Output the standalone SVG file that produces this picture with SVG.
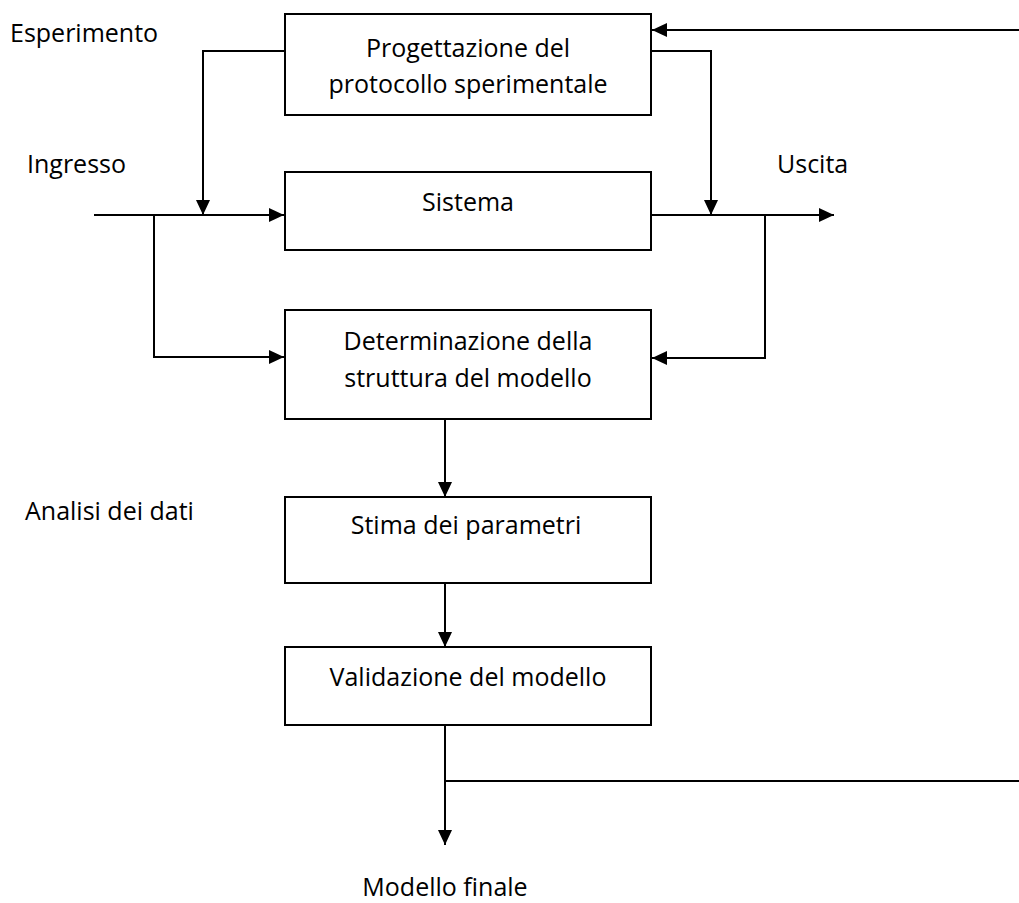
<svg xmlns="http://www.w3.org/2000/svg" width="1019" height="903" viewBox="0 0 1019 903">
<defs>
<marker id="ah" markerUnits="userSpaceOnUse" markerWidth="16" markerHeight="16" viewBox="0 0 16 16" refX="15" refY="8" orient="auto">
<path d="M0,1 L15,8 L0,15 z" fill="#000"/>
</marker>
<style>
.box{fill:#fff;stroke:#000;stroke-width:2}
.t{font-family:"Open Sans","Noto Sans","Liberation Sans",sans-serif;font-size:25px;fill:#000}
.c{text-anchor:middle}
.ln{fill:none;stroke:#000;stroke-width:2}
.ar{fill:none;stroke:#000;stroke-width:2;marker-end:url(#ah)}
</style>
</defs>
<rect width="1019" height="903" fill="#fff"/>
<g id="connectors">
<path class="ar" d="M1019,30 H652"/>
<path class="ar" d="M285,51 H203 V215"/>
<path class="ar" d="M651,51 H711 V215"/>
<path class="ar" d="M94,215 H284"/>
<path class="ar" d="M154,215 V357 H284"/>
<path class="ar" d="M651,215 H834"/>
<path class="ar" d="M765,215 V358 H652"/>
<path class="ar" d="M445,419 V497"/>
<path class="ar" d="M445,583 V647"/>
<path class="ar" d="M445,725 V845"/>
<path class="ln" d="M445,781 H1019"/>
</g>
<g id="progettazione">
<rect class="box" x="285" y="14" width="366" height="101"/>
<text class="t c" x="468" y="57">Progettazione del</text>
<text class="t c" x="468" y="93">protocollo sperimentale</text>
</g>
<g id="sistema">
<rect class="box" x="285" y="172" width="366" height="78"/>
<text class="t c" x="468" y="211">Sistema</text>
</g>
<g id="determinazione">
<rect class="box" x="285" y="310" width="366" height="109"/>
<text class="t c" x="468" y="350">Determinazione della</text>
<text class="t c" x="468" y="387">struttura del modello</text>
</g>
<g id="stima">
<rect class="box" x="285" y="497" width="366" height="86"/>
<text class="t c" x="466" y="534">Stima dei parametri</text>
</g>
<g id="validazione">
<rect class="box" x="285" y="647" width="366" height="78"/>
<text class="t c" x="468" y="686">Validazione del modello</text>
</g>
<g id="labels">
<text class="t" x="10" y="42">Esperimento</text>
<text class="t" x="27" y="173">Ingresso</text>
<text class="t" x="777" y="173">Uscita</text>
<text class="t" x="25" y="520">Analisi dei dati</text>
<text class="t c" x="445" y="896">Modello finale</text>
</g>
</svg>
